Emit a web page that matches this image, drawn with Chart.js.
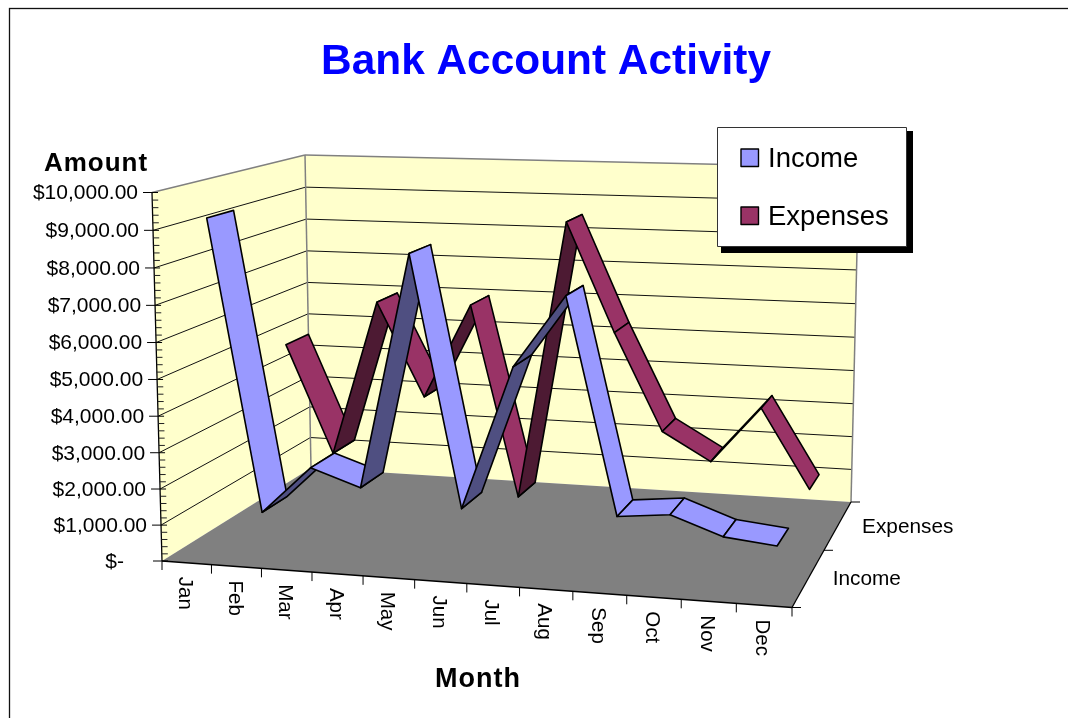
<!DOCTYPE html>
<html>
<head>
<meta charset="utf-8">
<title>Bank Account Activity</title>
<script src="https://cdn.jsdelivr.net/npm/chart.js@4"></script>
<style>
html, body { margin: 0; padding: 0; background: #fff; overflow: hidden; }
canvas { display: block; }
</style>
</head>
<body>
<canvas id="myChart" width="1068" height="718"></canvas>
<script>
var months = ['Jan', 'Feb', 'Mar', 'Apr', 'May', 'Jun', 'Jul', 'Aug', 'Sep', 'Oct', 'Nov', 'Dec'];
var income = [9130, 1030, 2370, 1900, 8350, 1500, 5430, 7380, 1560, 1700, 1200, 1050];
var expenses = [4690, 1450, 6080, 3320, 6110, 470, 8620, 5480, 2670, 1870, 3500, 1230];
var amountTicks = ['$-', '$1,000.00', '$2,000.00', '$3,000.00', '$4,000.00', '$5,000.00',
                   '$6,000.00', '$7,000.00', '$8,000.00', '$9,000.00', '$10,000.00'];
var font = '"Liberation Sans", Arial, sans-serif';

// corners of the 3d box on screen: front left, front right, back right, back left
var floorQuad = [[162, 561], [792, 607.5], [851, 502], [311, 468]];
var topQuad = [[152, 192.5], [802, 210], [859, 167.5], [305, 155]];
var heightWarp = 0.03;

function homography(q) {
    var dx1 = q[1][0] - q[2][0], dx2 = q[3][0] - q[2][0], sx = q[0][0] - q[1][0] + q[2][0] - q[3][0];
    var dy1 = q[1][1] - q[2][1], dy2 = q[3][1] - q[2][1], sy = q[0][1] - q[1][1] + q[2][1] - q[3][1];
    var det = dx1 * dy2 - dx2 * dy1;
    var g = (sx * dy2 - dx2 * sy) / det;
    var h = (dx1 * sy - sx * dy1) / det;
    return function(u, t) {
        var w = g * u + h * t + 1;
        return [
            (q[1][0] - q[0][0] + g * q[1][0]) * u / w + (q[3][0] - q[0][0] + h * q[3][0]) * t / w + q[0][0] / w,
            (q[1][1] - q[0][1] + g * q[1][1]) * u / w + (q[3][1] - q[0][1] + h * q[3][1]) * t / w + q[0][1] / w
        ];
    };
}

var floorMap = homography(floorQuad);
var topMap = homography(topQuad);

// u along months, h up the value axis, t from front to back, all 0..1
function project(u, h, t) {
    var a = floorMap(u, t);
    var b = topMap(u, t);
    var k = h / (1 + heightWarp * (1 - h));
    return [a[0] + (b[0] - a[0]) * k, a[1] + (b[1] - a[1]) * k];
}

function poly(ctx, pts, fill, stroke, lw) {
    ctx.beginPath();
    for (var i = 0; i < pts.length; i++) {
        if (i === 0) ctx.moveTo(pts[i][0], pts[i][1]);
        else ctx.lineTo(pts[i][0], pts[i][1]);
    }
    ctx.closePath();
    if (fill) { ctx.fillStyle = fill; ctx.fill(); }
    if (stroke) { ctx.strokeStyle = stroke; ctx.lineWidth = lw || 1; ctx.stroke(); }
}

function seg(ctx, a, b, color, lw) {
    ctx.beginPath();
    ctx.moveTo(a[0], a[1]);
    ctx.lineTo(b[0], b[1]);
    ctx.strokeStyle = color;
    ctx.lineWidth = lw || 1;
    ctx.stroke();
}

function label(ctx, text, x, y, size, align, bold, color) {
    ctx.font = (bold ? 'bold ' : '') + size + 'px ' + font;
    ctx.textAlign = align;
    ctx.textBaseline = 'middle';
    ctx.fillStyle = color || '#000';
    ctx.fillText(text, x, y + 1);
}

function signedArea(p) {
    var s = 0;
    for (var i = 0; i < p.length; i++) {
        var n = p[(i + 1) % p.length];
        s += p[i][0] * n[1] - n[0] * p[i][1];
    }
    return s;
}

var box3d = {
    id: 'box3d',
    beforeDatasetsDraw: function(chart) {
        var ctx = chart.ctx;
        var area = chart.chartArea;
        var xs = chart.scales.x;
        var ys = chart.scales.y;
        function U(i) { return (xs.getPixelForValue(i) - area.left) / (area.right - area.left); }
        function H(v) { return (area.bottom - ys.getPixelForValue(v)) / (area.bottom - area.top); }
        var n = months.length;
        var step = 1 / n;
        var k, i;

        ctx.save();
        ctx.fillStyle = '#fff';
        ctx.fillRect(0, 0, chart.width, chart.height);
        ctx.strokeStyle = '#111';
        ctx.lineWidth = 1.3;
        ctx.strokeRect(9.5, 8.5, 1200, 900);

        // walls and floor
        poly(ctx, [project(0, 0, 0), project(0, 1, 0), project(0, 1, 1), project(0, 0, 1)], '#FFFFCC');
        poly(ctx, [project(0, 0, 1), project(0, 1, 1), project(1, 1, 1), project(1, 0, 1)], '#FFFFCC');
        poly(ctx, [project(0, 0, 0), project(1, 0, 0), project(1, 0, 1), project(0, 0, 1)], '#808080');

        // gridlines
        for (k = 1; k < amountTicks.length - 1; k++) {
            var h = H(k * 1000);
            seg(ctx, project(0, h, 0), project(0, h, 1), '#111');
            seg(ctx, project(0, h, 1), project(1, h, 1), '#111');
        }
        seg(ctx, project(0, 1, 0), project(0, 1, 1), '#808080', 1.5);
        seg(ctx, project(0, 1, 1), project(1, 1, 1), '#808080', 1.5);
        seg(ctx, project(0, 0, 1), project(0, 1, 1), '#808080', 1.5);
        seg(ctx, project(1, 0, 1), project(1, 1, 1), '#808080', 1.5);

        // value axis with minor ticks
        seg(ctx, project(0, 0, 0), project(0, 1, 0), '#000', 1.3);
        for (k = 0; k <= 50; k++) {
            var p = project(0, H(k * 200), 0);
            if (k % 5 === 0) {
                seg(ctx, [p[0] - 9, p[1]], [p[0] + 6, p[1]], '#000', 1);
            } else {
                seg(ctx, [p[0], p[1]], [p[0] + 6, p[1]], '#222', 1);
            }
        }
        for (k = 0; k < amountTicks.length; k++) {
            var q = project(0, H(k * 1000), 0);
            label(ctx, amountTicks[k], q[0] - (k === 0 ? 38 : 14), q[1], 21, 'right');
        }

        // month axis
        seg(ctx, project(0, 0, 0), project(1, 0, 0), '#000', 1.3);
        for (i = 0; i <= n; i++) {
            var t0 = project(i * step, 0, 0);
            seg(ctx, t0, [t0[0], t0[1] + 9], '#000', 1);
        }
        for (i = 0; i < n; i++) {
            var c = project(U(i), 0, 0);
            ctx.save();
            ctx.translate(c[0] - 1, c[1] + 14);
            ctx.rotate(Math.PI / 2);
            label(ctx, months[i], 0, 0, 20.5, 'left');
            ctx.restore();
        }

        // series axis
        seg(ctx, project(1, 0, 0), project(1, 0, 1), '#000', 1.3);
        for (i = 0; i <= chart.data.datasets.length; i++) {
            var t1 = project(1, 0, i / chart.data.datasets.length);
            seg(ctx, t1, [t1[0] + 9, t1[1]], '#000', 1);
        }
        chart.data.datasets.forEach(function(ds, s) {
            var l = project(1, 0, (s + 0.5) / chart.data.datasets.length);
            label(ctx, ds.label, l[0] + 24, l[1] + 1, 20.8, 'left');
        });

        // ribbons, back series first, left to right
        ctx.lineJoin = 'round';
        for (var s = chart.data.datasets.length - 1; s >= 0; s--) {
            var ds = chart.data.datasets[s];
            var d0 = (s + 1 / 3) / chart.data.datasets.length;
            var d1 = (s + 2 / 3) / chart.data.datasets.length;
            for (i = 0; i < ds.data.length - 1; i++) {
                var u0 = U(i), u1 = U(i + 1), h0 = H(ds.data[i]), h1 = H(ds.data[i + 1]);
                var quad = [project(u0, h0, d0), project(u1, h1, d0), project(u1, h1, d1), project(u0, h0, d1)];
                // the winding on screen tells if we see the top or the underside
                var under = signedArea(quad) > 0;
                poly(ctx, quad, under ? ds.darkColor : ds.backgroundColor, '#000', 1.6);
            }
        }

        // titles
        label(ctx, 'Bank Account Activity', 546, 61, 42.4, 'center', true, '#0000FF');
        ctx.letterSpacing = '1px';
        label(ctx, 'Amount', 96, 163, 26, 'center', true);
        label(ctx, 'Month', 478, 679, 27, 'center', true);
        ctx.letterSpacing = '0px';

        // legend box
        ctx.fillStyle = '#000';
        ctx.fillRect(721, 131, 192, 122);
        ctx.fillStyle = '#fff';
        ctx.fillRect(717.5, 127.5, 189, 119);
        ctx.strokeStyle = '#333';
        ctx.lineWidth = 1;
        ctx.strokeRect(717.5, 127.5, 189, 119);
        chart.data.datasets.forEach(function(ds, s) {
            var y = 158 + s * 58;
            ctx.fillStyle = ds.backgroundColor;
            ctx.fillRect(741, y - 9, 17.5, 17.5);
            ctx.strokeStyle = '#000';
            ctx.lineWidth = 1.4;
            ctx.strokeRect(741, y - 9, 17.5, 17.5);
            label(ctx, ds.label, 768, y, 27.5, 'left');
        });
        ctx.restore();
        return false;
    }
};

var chart = new Chart(document.getElementById('myChart').getContext('2d'), {
    type: 'line',
    data: {
        labels: months,
        datasets: [
            { label: 'Income', data: income, backgroundColor: '#9999FF', darkColor: '#4F4F81', borderColor: '#000' },
            { label: 'Expenses', data: expenses, backgroundColor: '#993366', darkColor: '#4D1A33', borderColor: '#000' }
        ]
    },
    options: {
        responsive: false,
        animation: false,
        events: [],
        plugins: { legend: { display: false }, tooltip: { enabled: false } },
        scales: {
            x: { display: false, offset: true },
            y: { display: false, min: 0, max: 10000, ticks: { stepSize: 1000 } }
        }
    },
    plugins: [box3d]
});
</script>
</body>
</html>
